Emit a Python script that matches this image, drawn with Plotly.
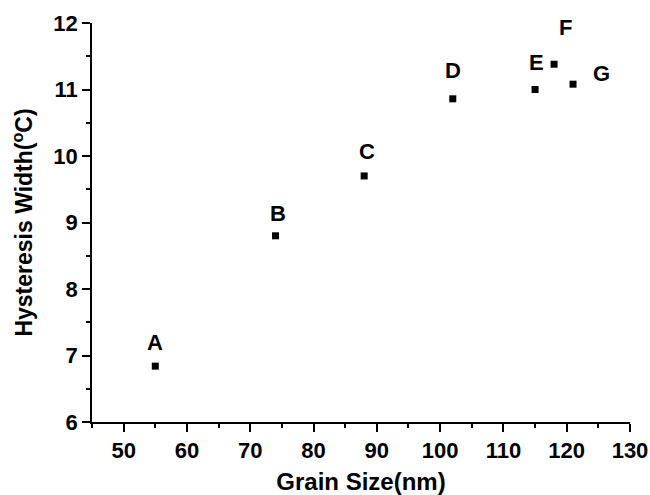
import plotly.graph_objects as go

labels = ["A", "B", "C", "D", "E", "F", "G"]
grain_size = [55, 74, 88, 102, 115, 118, 121]
hysteresis = [6.84, 8.80, 9.70, 10.86, 11.00, 11.38, 11.08]
x_ticks = [50, 60, 70, 80, 90, 100, 110, 120, 130]
y_ticks = [6, 7, 8, 9, 10, 11, 12]

# label offsets in pixels (x, y) relative to each point
label_shift = {"A": (0, 24), "B": (2, 22), "C": (3, 24), "D": (0, 28),
               "E": (1, 27), "F": (11, 37), "G": (28, 11)}

FONT = "Liberation Sans, Arial"

fig = go.Figure()
fig.add_trace(go.Scatter(x=grain_size, y=hysteresis, mode="markers",
                         marker=dict(symbol="square", size=7, color="black"),
                         showlegend=False, hoverinfo="skip"))

for lab, xv, yv in zip(labels, grain_size, hysteresis):
    dx, dy = label_shift[lab]
    fig.add_annotation(x=xv, y=yv, text="<b>%s</b>" % lab, showarrow=False,
                       xshift=dx, yshift=dy,
                       font=dict(family=FONT, size=22, color="black"))

axis_common = dict(showline=True, linecolor="black", linewidth=1.5,
                   ticks="outside", ticklen=8, tickwidth=1.5, tickcolor="black",
                   showgrid=False, zeroline=False, mirror=False, automargin=False,
                   tickfont=dict(family=FONT, size=22, color="black", weight="bold"))

fig.update_xaxes(range=[45, 130], tickvals=x_ticks,
                 ticktext=["<b>%d</b>" % v for v in x_ticks],
                 minor=dict(dtick=5, tick0=45, ticks="outside", ticklen=4, tickwidth=1.5, tickcolor="black"),
                 title=dict(text="<b>Grain Size(nm)</b>", standoff=11,
                            font=dict(family=FONT, size=24, color="black")),
                 **axis_common)
fig.update_yaxes(range=[6, 12], tickvals=y_ticks,
                 ticktext=["<b>%d</b>" % v for v in y_ticks],
                 minor=dict(dtick=0.5, tick0=6, ticks="outside", ticklen=4, tickwidth=1.5, tickcolor="black"),
                 title=dict(text="<b>Hysteresis Width(<sup>o</sup>C)</b>", standoff=14,
                            font=dict(family=FONT, size=23, color="black")),
                 **axis_common)

fig.update_layout(width=650, height=495, plot_bgcolor="white", paper_bgcolor="white",
                  margin=dict(l=92, r=20, t=23, b=73))

fig.write_html("out.html", config={"displayModeBar": False},
               post_script="document.body.style.margin='0';document.body.style.padding='0';")
